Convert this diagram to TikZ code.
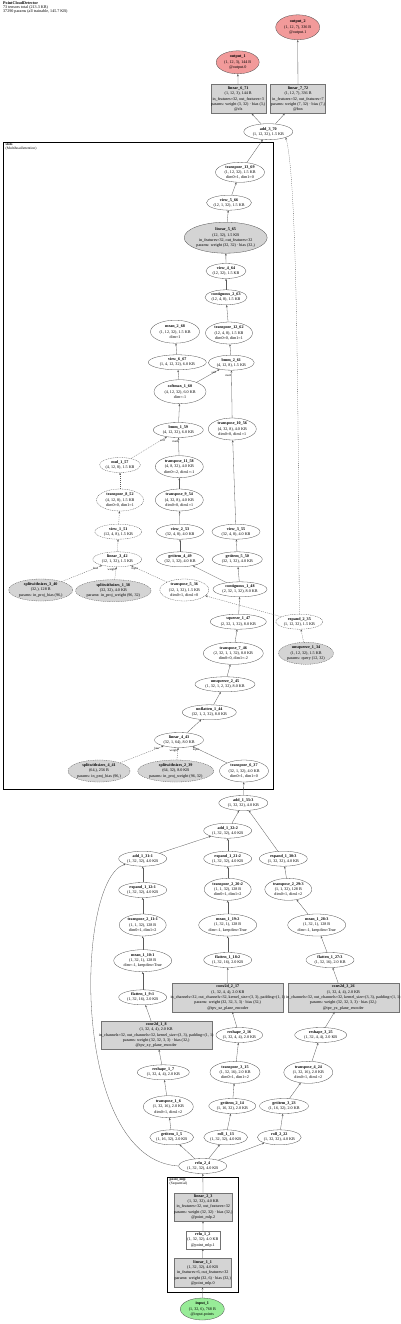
\documentclass[tikz,border=0pt]{standalone}
\usepackage{fontspec}
\setmainfont{Liberation Serif}
\usetikzlibrary{shapes.geometric,arrows.meta}
\definecolor{outred}{RGB}{242,154,154}
\definecolor{ingreen}{RGB}{152,236,152}
\definecolor{pgray}{RGB}{212,212,212}
\newcommand\ov[1]{\makebox[0pt]{#1}}

\begin{document}
\begin{tikzpicture}[x=1pt,y=-1pt,
  every node/.style={inner sep=0pt,align=center,font=\fontsize{4.1}{5.3}\selectfont},
  sz/.style 2 args={minimum width=#1,minimum height=#2},
  tn/.style={ellipse,draw=black!70,line width=0.3pt},
  pn/.style={tn,fill=pgray},
  bx/.style={rectangle,draw=black!55,fill=pgray,line width=0.3pt},
  qn/.style={dash pattern=on 1pt off 0.8pt},
  ed/.style={draw=black!65,line width=0.3pt,-{Stealth[length=2.3pt,width=1.8pt]}},
  qe/.style={ed,dash pattern=on 1pt off 1pt},
  lb/.style={font=\fontsize{3}{3.5}\selectfont},
  cl/.style={draw=black,line width=1.3pt}]
\useasboundingbox (0,0) rectangle (400,1324);
\node[anchor=north west,align=left,font=\fontsize{4.1}{4.2}\selectfont] (ttl) at (3,1) {\textbf{PointCloudDetector}\\73 tensors total (213.3 KB)\\37290 params (all trainable, 145.7 KB)};
\draw[cl] (3.3,142.7) rectangle (273.3,789.3);
\node[anchor=north west,align=left,font=\fontsize{3.6}{4}\selectfont] (cslots) at (5.5,143.3) {\textbf{slots}\\(MultiheadAttention)};
\draw[cl] (167.3,1177.3) rectangle (238.7,1292.7);
\node[anchor=north west,align=left,font=\fontsize{3.6}{4}\selectfont] (cmlp) at (169.5,1178) {\textbf{point\_mlp}\\(Sequential)};

\node[tn,fill=outred,sz={44}{25}] (o2) at (297.7,27.3) {\textbf{output\_2}\\(1, 12, 7), 336 B\\@output.1};
\node[tn,fill=outred,sz={43}{23}] (o1) at (237.7,62.3) {\textbf{output\_1}\\(1, 12, 3), 144 B\\@output.0};
\node[bx,sz={55}{28.7}] (n71) at (238.2,99) {\textbf{linear\_6\_71}\\(1, 12, 3), 144 B\\\ov{in\_features=32, out\_features=3}\\\ov{params: weight (3, 32) · bias (3,)}\\@cls};
\node[bx,sz={55}{28.7}] (n72) at (298,99) {\textbf{linear\_7\_72}\\(1, 12, 7), 336 B\\\ov{in\_features=32, out\_features=7}\\\ov{params: weight (7, 32) · bias (7,)}\\@box};
\node[tn,sz={49}{16}] (n70) at (268.3,131.7) {\textbf{add\_3\_70}\\(1, 12, 32), 1.5 KB};
\node[tn,sz={49}{20}] (n69) at (240,172.3) {\textbf{transpose\_13\_69}\\(1, 12, 32), 1.5 KB\\dim0=1, dim1=0};
\node[tn,sz={45}{15}] (n66) at (229,202.7) {\textbf{view\_5\_66}\\(12, 1, 32), 1.5 KB};
\node[pn,sz={83}{31}] (n65) at (225.7,237.7) {\textbf{linear\_5\_65}\\(12, 32), 1.5 KB\\in\_features=32, out\_features=32\\params: weight (32, 32) · bias (32,)};
\node[tn,sz={40}{15}] (n64) at (226,271) {\textbf{view\_4\_64}\\(12, 32), 1.5 KB};
\node[tn,sz={42}{15}] (n63) at (226,297.3) {\textbf{contiguous\_2\_63}\\(12, 4, 8), 1.5 KB};
\node[tn,sz={47}{22}] (n62) at (229,333) {\textbf{transpose\_12\_62}\\(12, 4, 8), 1.5 KB\\dim0=0, dim1=1};
\node[tn,sz={49}{23}] (n68) at (175,331.7) {\textbf{mean\_2\_68}\\(1, 12, 32), 1.5 KB\\dim=1};
\node[tn,sz={58}{15}] (n67) at (177.3,362.3) {\textbf{view\_6\_67}\\(1, 4, 12, 32), 6.0 KB};
\node[tn,sz={46}{15}] (n61) at (231.3,362.7) {\textbf{bmm\_2\_61}\\(4, 12, 8), 1.5 KB};
\node[tn,sz={52}{24}] (n60) at (180,391.7) {\textbf{softmax\_1\_60}\\(4, 12, 32), 6.0 KB\\dim=-1};
\node[tn,sz={50}{15}] (n59) at (178.3,430) {\textbf{bmm\_1\_59}\\(4, 12, 32), 6.0 KB};
\node[tn,sz={48}{22}] (n56) at (232.3,429) {\textbf{transpose\_10\_56}\\(4, 32, 8), 4.0 KB\\dim0=0, dim1=1};
\node[tn,qn,sz={38}{15}] (n57) at (120,465) {\textbf{mul\_1\_57}\\(4, 12, 8), 1.5 KB};
\node[tn,sz={48}{22}] (n58) at (179.3,466.7) {\textbf{transpose\_11\_58}\\(4, 8, 32), 4.0 KB\\dim0=-2, dim1=-1};
\node[tn,qn,sz={47}{22}] (n52) at (120,500) {\textbf{transpose\_8\_52}\\(4, 12, 8), 1.5 KB\\dim0=0, dim1=1};
\node[tn,sz={48}{22}] (n54) at (179.3,500) {\textbf{transpose\_9\_54}\\(4, 32, 8), 4.0 KB\\dim0=0, dim1=1};
\node[tn,qn,sz={47}{15}] (n51) at (118.3,531.7) {\textbf{view\_1\_51}\\(12, 4, 8), 1.5 KB};
\node[tn,sz={47}{15}] (n53) at (180,531.7) {\textbf{view\_2\_53}\\(32, 4, 8), 4.0 KB};
\node[tn,sz={48}{15}] (n55) at (236,531.7) {\textbf{view\_3\_55}\\(32, 4, 8), 4.0 KB};
\node[tn,qn,sz={49}{15}] (n42) at (117.3,559.3) {\textbf{linear\_3\_42}\\(12, 1, 32), 1.5 KB};
\node[tn,sz={47}{15}] (n49) at (180,559.3) {\textbf{getitem\_4\_49}\\(32, 1, 32), 4.0 KB};
\node[tn,sz={50}{15}] (n50) at (237.3,559.3) {\textbf{getitem\_5\_50}\\(32, 1, 32), 4.0 KB};
\node[pn,qn,sz={64}{22}] (n40) at (40.7,590) {\textbf{splitwithsizes\_3\_40}\\(32,), 128 B\\params: in\_proj\_bias (96,)};
\node[pn,qn,sz={70}{22}] (n38) at (113.3,590.7) {\textbf{splitwithsizes\_1\_38}\\(32, 32), 4.0 KB\\params: in\_proj\_weight (96, 32)};
\node[tn,qn,sz={49}{22}] (n36) at (184.3,590) {\textbf{transpose\_5\_36}\\(12, 1, 32), 1.5 KB\\dim0=1, dim1=0};
\node[tn,sz={54}{15}] (n48) at (240,589.3) {\textbf{contiguous\_1\_48}\\(2, 32, 1, 32), 8.0 KB};
\node[tn,sz={56}{15}] (n47) at (238.3,621.7) {\textbf{squeeze\_1\_47}\\(2, 32, 1, 32), 8.0 KB};
\node[tn,qn,sz={47}{15}] (n35) at (299.3,621.7) {\textbf{expand\_2\_35}\\(1, 12, 32), 1.5 KB};
\node[tn,sz={60}{22}] (n46) at (233.3,653.3) {\textbf{transpose\_7\_46}\\(2, 32, 1, 1, 32), 8.0 KB\\dim0=0, dim1=-2};
\node[pn,qn,sz={55}{22}] (n34) at (306,653.3) {\textbf{unsqueeze\_1\_34}\\(1, 12, 32), 1.5 KB\\params: query (12, 32)};
\node[tn,sz={60}{15}] (n45) at (225,684.3) {\textbf{unsqueeze\_2\_45}\\(1, 32, 1, 2, 32), 8.0 KB};
\node[tn,sz={54}{15}] (n44) at (209.3,712.3) {\textbf{unflatten\_1\_44}\\(32, 1, 2, 32), 8.0 KB};
\node[tn,sz={49}{15}] (n43) at (179,740) {\textbf{linear\_4\_43}\\(32, 1, 64), 8.0 KB};
\node[pn,qn,sz={62}{22}] (n41) at (99,771) {\textbf{splitwithsizes\_4\_41}\\(64,), 256 B\\params: in\_proj\_bias (96,)};
\node[pn,qn,sz={76}{22}] (n39) at (175.7,771) {\textbf{splitwithsizes\_2\_39}\\(64, 32), 8.0 KB\\params: in\_proj\_weight (96, 32)};
\node[tn,sz={49}{22}] (n37) at (244,771) {\textbf{transpose\_6\_37}\\(32, 1, 32), 4.0 KB\\dim0=1, dim1=0};
\node[tn,sz={49}{15}] (n33) at (243.3,803) {\textbf{add\_1\_33:3}\\(1, 32, 32), 4.0 KB};
\node[tn,sz={48}{15}] (n32) at (227.7,830.7) {\textbf{add\_1\_32:2}\\(1, 32, 32), 4.0 KB};
\node[tn,sz={48}{15}] (n31) at (142.7,858.7) {\textbf{add\_1\_31:1}\\(1, 32, 32), 4.0 KB};
\node[tn,sz={48}{15}] (n21) at (227.7,858.7) {\textbf{expand\_1\_21:2}\\(1, 32, 32), 4.0 KB};
\node[tn,sz={48}{15}] (n30) at (283.3,858.7) {\textbf{expand\_1\_30:3}\\(1, 32, 32), 4.0 KB};
\node[tn,sz={48}{15}] (n12) at (142.7,890) {\textbf{expand\_1\_12:1}\\(1, 32, 32), 4.0 KB};
\node[tn,sz={47}{22}] (n20) at (227.7,889.3) {\textbf{transpose\_2\_20:2}\\(1, 1, 32), 128 B\\dim0=1, dim1=2};
\node[tn,sz={47}{22}] (n29) at (288.3,889.3) {\textbf{transpose\_2\_29:3}\\(1, 1, 32), 128 B\\dim0=1, dim1=2};
\node[tn,sz={47}{22}] (n11) at (142.7,925) {\textbf{transpose\_2\_11:1}\\(1, 1, 32), 128 B\\dim0=1, dim1=2};
\node[tn,sz={58}{22}] (n19) at (227.7,925) {\textbf{mean\_1\_19:2}\\(1, 32, 1), 128 B\\dim=-1, keepdim=True};
\node[tn,sz={58}{22}] (n28) at (316.7,925) {\textbf{mean\_1\_28:3}\\(1, 32, 1), 128 B\\dim=-1, keepdim=True};
\node[tn,sz={58}{22}] (n10) at (142.7,960.7) {\textbf{mean\_1\_10:1}\\(1, 32, 1), 128 B\\dim=-1, keepdim=True};
\node[tn,sz={48}{15}] (n18) at (227.7,960) {\textbf{flatten\_1\_18:2}\\(1, 32, 16), 2.0 KB};
\node[tn,sz={48}{15}] (n27) at (330,960) {\textbf{flatten\_1\_27:3}\\(1, 32, 16), 2.0 KB};
\node[tn,sz={48}{15}] (n9) at (142.7,997.3) {\textbf{flatten\_1\_9:1}\\(1, 32, 16), 2.0 KB};
\node[bx,sz={111}{28.3}] (n17) at (227.8,997.5) {\textbf{conv2d\_2\_17}\\(1, 32, 4, 4), 2.0 KB\\\ov{in\_channels=32, out\_channels=32, kernel\_size=(3, 3), padding=(1, 1)}\\params: weight (32, 32, 3, 3) · bias (32,)\\@tpv\_xz\_plane\_encoder};
\node[bx,sz={110.7}{28.3}] (n26) at (343.3,997.5) {\textbf{conv2d\_3\_26}\\(1, 32, 4, 4), 2.0 KB\\\ov{in\_channels=32, out\_channels=32, kernel\_size=(3, 3), padding=(1, 1)}\\params: weight (32, 32, 3, 3) · bias (32,)\\@tpv\_yz\_plane\_encoder};
\node[bx,sz={111}{28.3}] (n8) at (156.2,1035.2) {\textbf{conv2d\_1\_8}\\(1, 32, 4, 4), 2.0 KB\\\ov{in\_channels=32, out\_channels=32, kernel\_size=(3, 3), padding=(1, 1)}\\params: weight (32, 32, 3, 3) · bias (32,)\\@tpv\_xy\_plane\_encoder};
\node[tn,sz={42}{15}] (n16) at (239.3,1035) {\textbf{reshape\_2\_16}\\(1, 32, 4, 4), 2.0 KB};
\node[tn,sz={52}{15}] (n25) at (320.7,1035) {\textbf{reshape\_3\_25}\\(1, 32, 4, 4), 2.0 KB};
\node[tn,sz={52}{15}] (n7) at (163.3,1072.3) {\textbf{reshape\_1\_7}\\(1, 32, 4, 4), 2.0 KB};
\node[tn,sz={50}{22}] (n15) at (235,1072.3) {\textbf{transpose\_3\_15}\\(1, 32, 16), 2.0 KB\\dim0=1, dim1=2};
\node[tn,sz={49}{22}] (n24) at (308.3,1072.3) {\textbf{transpose\_4\_24}\\(1, 32, 16), 2.0 KB\\dim0=1, dim1=2};
\node[tn,sz={50}{22}] (n6) at (168.3,1106.7) {\textbf{transpose\_1\_6}\\(1, 32, 16), 2.0 KB\\dim0=1, dim1=2};
\node[tn,sz={47}{15}] (n14) at (232.3,1106) {\textbf{getitem\_2\_14}\\(1, 16, 32), 2.0 KB};
\node[tn,sz={49}{15}] (n23) at (284,1106) {\textbf{getitem\_3\_23}\\(1, 16, 32), 2.0 KB};
\node[tn,sz={42}{15}] (n5) at (171.7,1137.3) {\textbf{getitem\_1\_5}\\(1, 16, 32), 2.0 KB};
\node[tn,sz={40}{15}] (n13) at (225.7,1137.3) {\textbf{roll\_1\_13}\\(1, 32, 32), 4.0 KB};
\node[tn,sz={40}{15}] (n22) at (279.3,1137.3) {\textbf{roll\_2\_22}\\(1, 32, 32), 4.0 KB};
\node[tn,sz={48}{15}] (n4) at (202.7,1166) {\textbf{relu\_2\_4}\\(1, 32, 32), 4.0 KB};
\node[bx,sz={58.3}{28.3}] (n3) at (203.2,1206.8) {\textbf{linear\_2\_3}\\(1, 32, 32), 4.0 KB\\\ov{in\_features=32, out\_features=32}\\\ov{params: weight (32, 32) · bias (32,)}\\@point\_mlp.2};
\node[bx,fill=white,sz={34.3}{17.7}] (n2) at (202.8,1239.8) {\textbf{relu\_1\_2}\\\ov{(1, 32, 32), 4.0 KB}\\@point\_mlp.1};
\node[bx,sz={57.3}{28.7}] (n1) at (202.7,1272.7) {\textbf{linear\_1\_1}\\(1, 32, 32), 4.0 KB\\\ov{in\_features=6, out\_features=32}\\\ov{params: weight (32, 6) · bias (32,)}\\@point\_mlp.0};
\node[tn,fill=ingreen,sz={44}{22}] (i1) at (202.3,1309) {\textbf{input\_1}\\(1, 32, 6), 768 B\\@input.points};

\foreach \u/\v in {i1/n1,n1/n2,n2/n3,n3/n4,n4/n5,n4/n13,n4/n22,n5/n6,n6/n7,n7/n8,n8/n9,n9/n10,n10/n11,n11/n12,n12/n31,
  n13/n14,n14/n15,n15/n16,n16/n17,n17/n18,n18/n19,n19/n20,n20/n21,n21/n32,n31/n32,
  n22/n23,n23/n24,n24/n25,n25/n26,n26/n27,n27/n28,n28/n29,n29/n30,n30/n33,n32/n33,n33/n37,
  n43/n44,n44/n45,n45/n46,n46/n47,n47/n48,n48/n49,n48/n50,n49/n53,n50/n55,n53/n54,n54/n58,n55/n56,
  n59/n60,n60/n67,n67/n68,n61/n62,n62/n63,n63/n64,n64/n65,n65/n66,n66/n69,n69/n70,n70/n71,n70/n72,n71/o1,n72/o2}
  \draw[ed] (\u)--(\v);
\foreach \u/\v in {n34/n35,n35/n36,n42/n51,n51/n52,n52/n57}
  \draw[qe] (\u)--(\v);
\draw[qe] (n40) -- node[lb,pos=0.9,below left]{bias} (n42);
\draw[qe] (n38) -- node[lb,pos=0.75,left]{weight} (n42);
\draw[qe] (n36) -- node[lb,pos=0.9,below]{input} (n42);
\draw[qe] (n41) -- node[lb,pos=0.9,below left]{bias} (n43);
\draw[qe] (n39) -- node[lb,pos=0.75,left]{weight} (n43);
\draw[ed] (n37) -- node[lb,pos=0.9,below]{input} (n43);
\draw[qe] (n57) -- node[lb,pos=0.88,below]{self} (n59);
\draw[ed] (n58) -- node[lb,pos=0.8,left]{mat2} (n59);
\draw[ed] (n60) -- node[lb,pos=0.85,below left]{self} (n61);
\draw[ed] (n56) -- node[lb,pos=0.9,left]{mat2} (n61);
\draw[ed] (n4.west) .. controls (70,1160) and (75,880) .. (n31.south west);
\draw[qe] (n35.north) .. controls (298,350) and (296,175) .. (n70.south east);
\end{tikzpicture}
\end{document}
